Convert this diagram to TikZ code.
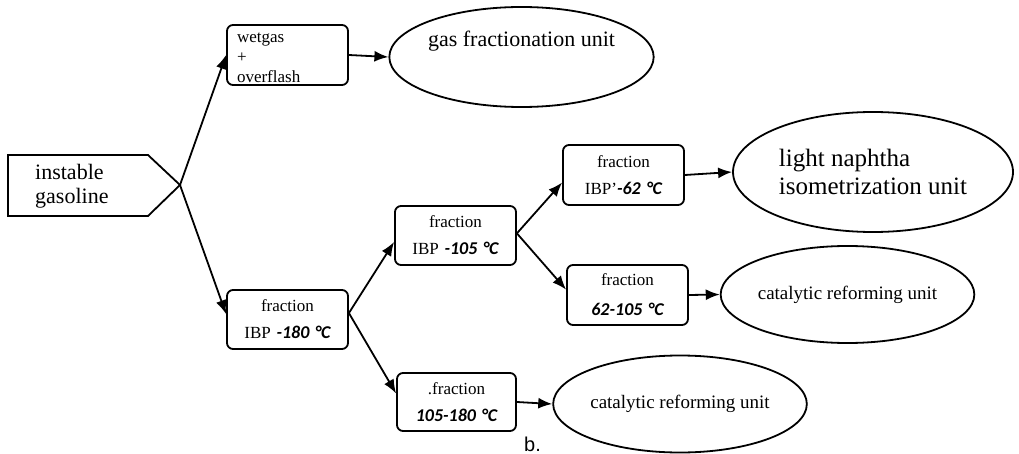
\documentclass[tikz,border=0pt]{standalone}
\usepackage{fontspec}
\setmainfont{Liberation Serif}
\newfontfamily\tempfont{Carlito}
\newfontfamily\labelfont{Liberation Sans}
\usetikzlibrary{arrows.meta,shapes.geometric}
\newcommand\tdeg[1]{{\tempfont\bfseries\itshape\fontsize{18}{27}\selectfont #1}}
\begin{document}
\begin{tikzpicture}[x=1pt,y=-1pt,
  box/.style={draw,line width=1.8pt,rounded corners=6pt,minimum width=121pt,minimum height=60pt,
    inner sep=0pt,text width=121pt,align=center,font=\fontsize{17}{27}\selectfont},
  unit/.style={draw,ellipse,line width=1.8pt,inner sep=0pt},
  arr/.style={line width=1.8pt,-{Latex[length=14pt,width=11pt]}},
  outline/.style={line width=1.8pt,line join=miter}
]
\useasboundingbox (0,0) rectangle (1019,454);

% source pentagon
\draw[outline] (8,155) -- (148,155) -- (180,185) -- (148,216) -- (8,216) -- cycle;
\coordinate (tip) at (180,185);
\node[font=\fontsize{22}{24}\selectfont,align=left,anchor=west,inner sep=0pt] (srctext) at (35,186) {instable\\gasoline};

% boxes
\node[box,text width=101pt,inner xsep=10pt,align=left,font=\fontsize{17}{20}\selectfont] (wet) at (287.5,55) {\rule{0pt}{16pt}wetgas\\+\\overflash};
\node[box,minimum height=59pt] (f180) at (287.5,319.5) {fraction\\IBP \tdeg{-180 °C}};
\node[box,minimum height=59pt] (f105) at (455.5,235.5) {fraction\\IBP \tdeg{-105 °C}};
\node[box] (f62) at (623.5,175) {fraction\\IBP'\tdeg{-62 °C}};
\node[box,font=\fontsize{17}{30}\selectfont] (f62105) at (627.5,295) {fraction\\\tdeg{62-105 °C}};
\node[box,minimum width=119pt,text width=119pt,minimum height=58pt] (f105180) at (456.5,402) {.fraction\\\tdeg{105-180 °C}};

% units
\node[unit,minimum width=253pt,minimum height=100pt,font=\fontsize{22}{26}\selectfont,text height=15pt,text depth=35pt] (gas) at (521.5,57) {gas fractionation unit};
\node[unit,minimum width=280pt,minimum height=120pt,align=left,font=\fontsize{25}{28}\selectfont] (naph) at (873,172) {light naphtha\\isometrization unit};
\node[unit,minimum width=229pt,minimum height=97pt,font=\fontsize{19}{23}\selectfont] (cat1) at (847.5,294.5) {catalytic reforming unit};
\node[unit,minimum width=230pt,minimum height=97pt,font=\fontsize{19}{23}\selectfont] (cat2) at (680,404) {catalytic reforming unit};

% connectors
\draw[arr] (tip) -- (wet.west);
\draw[arr] (tip) -- (f180.175);
\draw[arr] (f180.6) -- (f105.186);
\draw[arr] (f180.6) -- (f105180.172);
\draw[arr] (f105.2) -- (f62.187);
\draw[arr] (f105.2) -- (f62105.175);
\draw[arr] (wet.east) -- (gas.west);
\draw[arr] (f62.east) -- (naph.west);
\draw[arr] (f62105.east) -- (cat1.west);
\draw[arr] (f105180.east) -- (cat2.west);

\node[font=\labelfont\fontsize{20}{24}\selectfont,anchor=base west,inner sep=0pt] (blabel) at (524,451) {b.};
\end{tikzpicture}
\end{document}
